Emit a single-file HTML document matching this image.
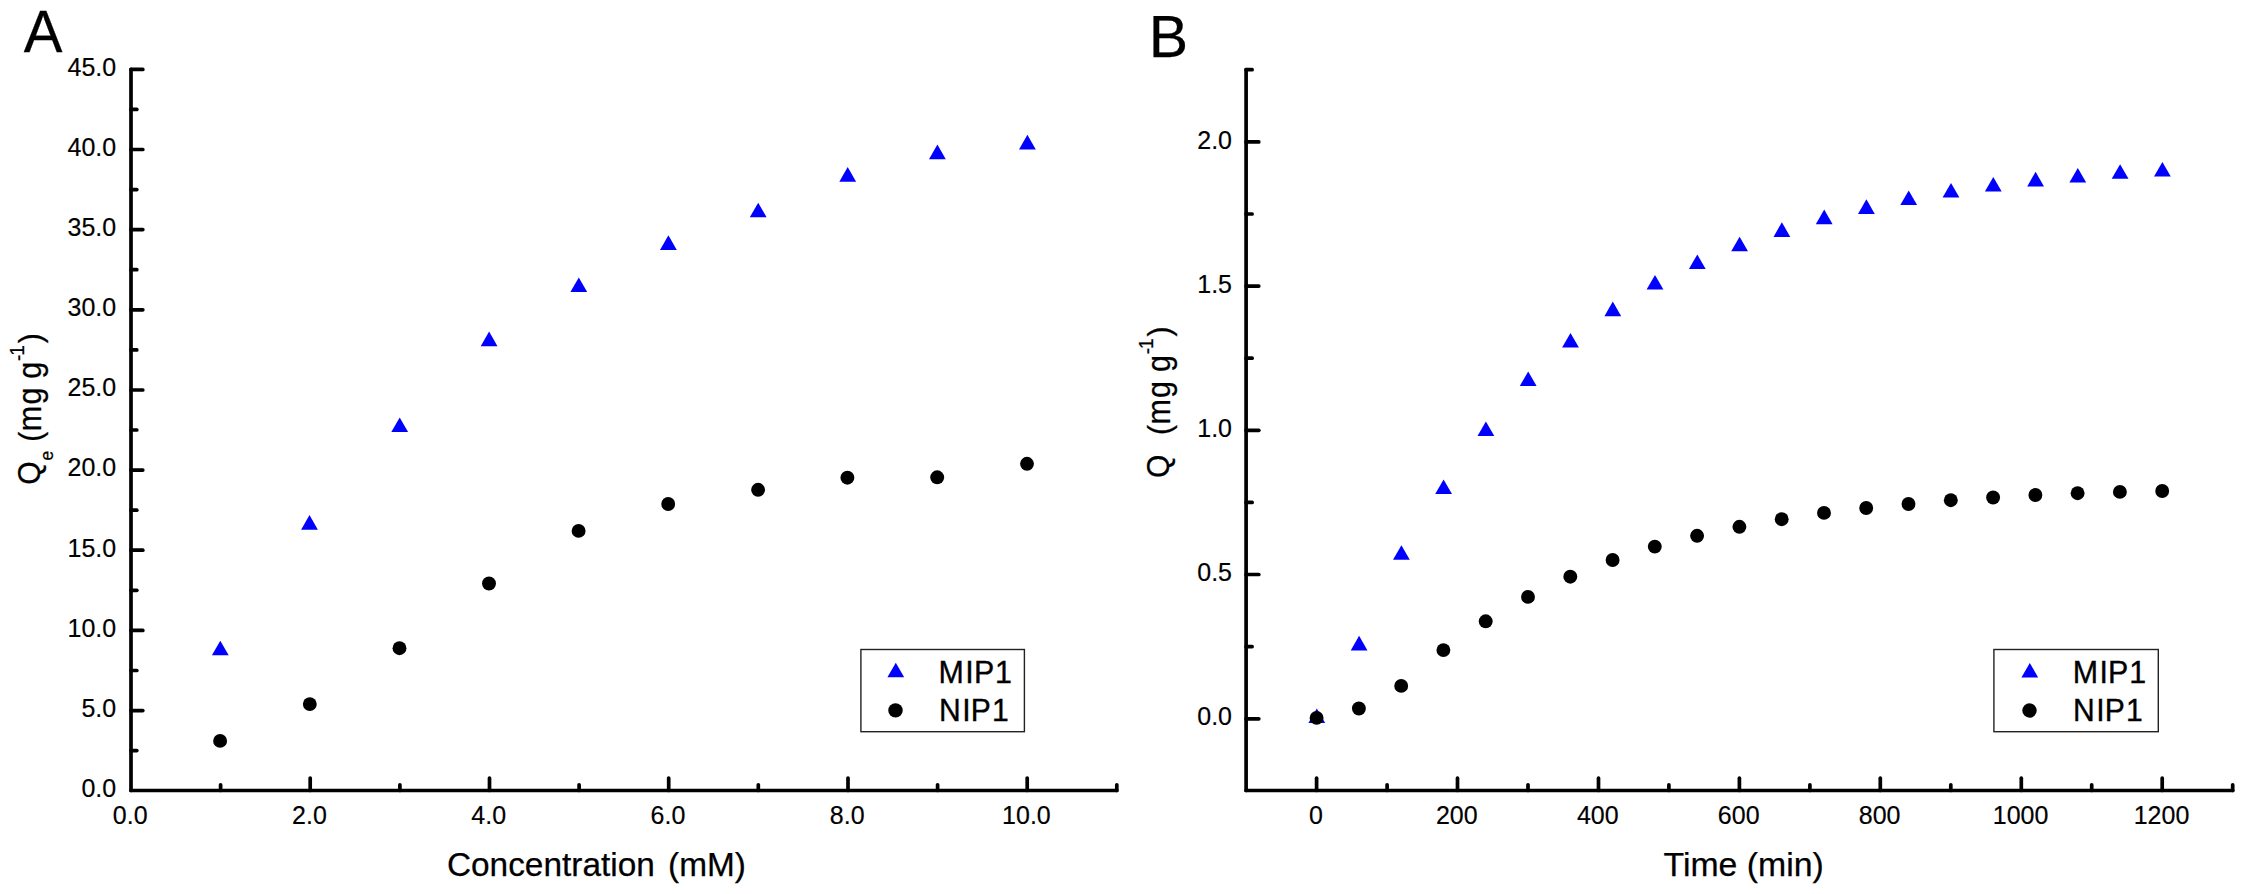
<!DOCTYPE html>
<html lang="en"><head><meta charset="utf-8"><title>Adsorption isotherm and kinetics</title>
<style>
html,body{margin:0;padding:0;background:#fff;}
body{width:2243px;height:894px;overflow:hidden;}
svg{display:block;}
svg text{stroke:#000;stroke-width:0.25px;}
svg text.tk{stroke-width:0.18px;}
svg text.lg{stroke-width:0.35px;}
</style></head><body>
<svg width="2243" height="894" viewBox="0 0 2243 894" font-family='"Liberation Sans", sans-serif' fill="#000">
<rect width="2243" height="894" fill="#fff"/>
<line x1="131.0" y1="69.4" x2="131.0" y2="790.5" stroke="#000" stroke-width="3.7" stroke-linecap="round"/>
<line x1="131.0" y1="790.5" x2="1116.8" y2="790.5" stroke="#000" stroke-width="3.7" stroke-linecap="round"/>
<text class="tk" transform="translate(116.2,797.0) scale(1,1.04)" font-size="25" text-anchor="end" >0.0</text>
<line x1="131.0" y1="750.6" x2="136.8" y2="750.6" stroke="#000" stroke-width="3.7" stroke-linecap="round"/>
<line x1="131.0" y1="710.6" x2="142.8" y2="710.6" stroke="#000" stroke-width="3.7" stroke-linecap="round"/>
<text class="tk" transform="translate(116.2,716.9) scale(1,1.04)" font-size="25" text-anchor="end" >5.0</text>
<line x1="131.0" y1="670.5" x2="136.8" y2="670.5" stroke="#000" stroke-width="3.7" stroke-linecap="round"/>
<line x1="131.0" y1="630.4" x2="142.8" y2="630.4" stroke="#000" stroke-width="3.7" stroke-linecap="round"/>
<text class="tk" transform="translate(116.2,636.7) scale(1,1.04)" font-size="25" text-anchor="end" >10.0</text>
<line x1="131.0" y1="590.3" x2="136.8" y2="590.3" stroke="#000" stroke-width="3.7" stroke-linecap="round"/>
<line x1="131.0" y1="550.2" x2="142.8" y2="550.2" stroke="#000" stroke-width="3.7" stroke-linecap="round"/>
<text class="tk" transform="translate(116.2,556.5) scale(1,1.04)" font-size="25" text-anchor="end" >15.0</text>
<line x1="131.0" y1="510.2" x2="136.8" y2="510.2" stroke="#000" stroke-width="3.7" stroke-linecap="round"/>
<line x1="131.0" y1="470.1" x2="142.8" y2="470.1" stroke="#000" stroke-width="3.7" stroke-linecap="round"/>
<text class="tk" transform="translate(116.2,476.4) scale(1,1.04)" font-size="25" text-anchor="end" >20.0</text>
<line x1="131.0" y1="430.0" x2="136.8" y2="430.0" stroke="#000" stroke-width="3.7" stroke-linecap="round"/>
<line x1="131.0" y1="390.0" x2="142.8" y2="390.0" stroke="#000" stroke-width="3.7" stroke-linecap="round"/>
<text class="tk" transform="translate(116.2,396.3) scale(1,1.04)" font-size="25" text-anchor="end" >25.0</text>
<line x1="131.0" y1="349.9" x2="136.8" y2="349.9" stroke="#000" stroke-width="3.7" stroke-linecap="round"/>
<line x1="131.0" y1="309.8" x2="142.8" y2="309.8" stroke="#000" stroke-width="3.7" stroke-linecap="round"/>
<text class="tk" transform="translate(116.2,316.1) scale(1,1.04)" font-size="25" text-anchor="end" >30.0</text>
<line x1="131.0" y1="269.7" x2="136.8" y2="269.7" stroke="#000" stroke-width="3.7" stroke-linecap="round"/>
<line x1="131.0" y1="229.6" x2="142.8" y2="229.6" stroke="#000" stroke-width="3.7" stroke-linecap="round"/>
<text class="tk" transform="translate(116.2,235.9) scale(1,1.04)" font-size="25" text-anchor="end" >35.0</text>
<line x1="131.0" y1="189.6" x2="136.8" y2="189.6" stroke="#000" stroke-width="3.7" stroke-linecap="round"/>
<line x1="131.0" y1="149.5" x2="142.8" y2="149.5" stroke="#000" stroke-width="3.7" stroke-linecap="round"/>
<text class="tk" transform="translate(116.2,155.8) scale(1,1.04)" font-size="25" text-anchor="end" >40.0</text>
<line x1="131.0" y1="109.4" x2="136.8" y2="109.4" stroke="#000" stroke-width="3.7" stroke-linecap="round"/>
<line x1="131.0" y1="69.4" x2="142.8" y2="69.4" stroke="#000" stroke-width="3.7" stroke-linecap="round"/>
<text class="tk" transform="translate(116.2,75.7) scale(1,1.04)" font-size="25" text-anchor="end" >45.0</text>
<text class="tk" transform="translate(130.2,823.8) scale(1,1.04)" font-size="25" text-anchor="middle" >0.0</text>
<line x1="220.6" y1="790.5" x2="220.6" y2="784.8" stroke="#000" stroke-width="3.7" stroke-linecap="round"/>
<line x1="310.2" y1="790.5" x2="310.2" y2="778.0" stroke="#000" stroke-width="3.7" stroke-linecap="round"/>
<text class="tk" transform="translate(309.4,823.8) scale(1,1.04)" font-size="25" text-anchor="middle" >2.0</text>
<line x1="399.9" y1="790.5" x2="399.9" y2="784.8" stroke="#000" stroke-width="3.7" stroke-linecap="round"/>
<line x1="489.5" y1="790.5" x2="489.5" y2="778.0" stroke="#000" stroke-width="3.7" stroke-linecap="round"/>
<text class="tk" transform="translate(488.7,823.8) scale(1,1.04)" font-size="25" text-anchor="middle" >4.0</text>
<line x1="579.1" y1="790.5" x2="579.1" y2="784.8" stroke="#000" stroke-width="3.7" stroke-linecap="round"/>
<line x1="668.7" y1="790.5" x2="668.7" y2="778.0" stroke="#000" stroke-width="3.7" stroke-linecap="round"/>
<text class="tk" transform="translate(667.9,823.8) scale(1,1.04)" font-size="25" text-anchor="middle" >6.0</text>
<line x1="758.3" y1="790.5" x2="758.3" y2="784.8" stroke="#000" stroke-width="3.7" stroke-linecap="round"/>
<line x1="848.0" y1="790.5" x2="848.0" y2="778.0" stroke="#000" stroke-width="3.7" stroke-linecap="round"/>
<text class="tk" transform="translate(847.2,823.8) scale(1,1.04)" font-size="25" text-anchor="middle" >8.0</text>
<line x1="937.6" y1="790.5" x2="937.6" y2="784.8" stroke="#000" stroke-width="3.7" stroke-linecap="round"/>
<line x1="1027.2" y1="790.5" x2="1027.2" y2="778.0" stroke="#000" stroke-width="3.7" stroke-linecap="round"/>
<text class="tk" transform="translate(1026.4,823.8) scale(1,1.04)" font-size="25" text-anchor="middle" >10.0</text>
<line x1="1116.8" y1="790.5" x2="1116.8" y2="784.8" stroke="#000" stroke-width="3.7" stroke-linecap="round"/>
<polygon points="220.3,640.7 211.9,655.3 228.7,655.3" fill="#0000ff"/>
<polygon points="309.5,515.1 301.1,529.7 317.9,529.7" fill="#0000ff"/>
<polygon points="399.7,417.4 391.3,432.0 408.1,432.0" fill="#0000ff"/>
<polygon points="489.1,331.6 480.7,346.2 497.5,346.2" fill="#0000ff"/>
<polygon points="578.8,277.4 570.4,292.0 587.2,292.0" fill="#0000ff"/>
<polygon points="668.4,235.3 660.0,249.9 676.8,249.9" fill="#0000ff"/>
<polygon points="758.2,202.7 749.8,217.3 766.6,217.3" fill="#0000ff"/>
<polygon points="847.7,167.1 839.3,181.7 856.1,181.7" fill="#0000ff"/>
<polygon points="937.4,144.6 929.0,159.2 945.8,159.2" fill="#0000ff"/>
<polygon points="1027.4,134.8 1019.0,149.4 1035.8,149.4" fill="#0000ff"/>
<circle cx="220.1" cy="740.9" r="6.95" fill="#000"/>
<circle cx="309.8" cy="704.1" r="6.95" fill="#000"/>
<circle cx="399.5" cy="648.2" r="6.95" fill="#000"/>
<circle cx="489.0" cy="583.5" r="6.95" fill="#000"/>
<circle cx="578.6" cy="530.9" r="6.95" fill="#000"/>
<circle cx="668.2" cy="504.0" r="6.95" fill="#000"/>
<circle cx="758.1" cy="489.8" r="6.95" fill="#000"/>
<circle cx="847.4" cy="477.7" r="6.95" fill="#000"/>
<circle cx="937.2" cy="477.3" r="6.95" fill="#000"/>
<circle cx="1027.0" cy="463.8" r="6.95" fill="#000"/>
<rect x="860.9" y="649.5" width="163.5" height="82.2" fill="#fff" stroke="#222" stroke-width="1.4"/>
<polygon points="895.8,662.7 887.4,677.3 904.2,677.3" fill="#0000ff"/>
<circle cx="895.5" cy="710.4" r="7.2" fill="#000"/>
<text class="lg" transform="translate(937.81,682.6) scale(1,1.035)" font-size="30.4" dx="0.8 1.4 0.2 0.8">MIP1</text>
<text class="lg" transform="translate(938.53,721.3) scale(1,1.035)" font-size="30.1" dx="0.4 1.6 0.2 1.0">NIP1</text>
<text transform="translate(23.8,51.7) scale(1,1.03)" font-size="58">A</text>
<text x="446.9" y="876.4" font-size="33.4" text-anchor="start" word-spacing="4">Concentration (mM)</text>
<g transform="translate(41.2,483.4) rotate(-90) scale(1,1.06)">
<text x="-1.42" y="-0.94" font-size="30">Q</text>
<text x="22.86" y="11.13" font-size="17.5">e</text>
<text x="41.74" y="0.00" font-size="30">(</text>
<text x="52.17" y="0.00" font-size="30.5">m</text>
<text x="78.82" y="0.00" font-size="30.5">g</text>
<text x="104.72" y="0.00" font-size="30.5">g</text>
<text x="122.36" y="-15.57" font-size="19">-</text>
<text x="127.75" y="-16.42" font-size="19">1</text>
<text x="140.22" y="0.00" font-size="30">)</text>
</g>
<line x1="1246.1" y1="69.7" x2="1246.1" y2="790.5" stroke="#000" stroke-width="3.7" stroke-linecap="round"/>
<line x1="1246.1" y1="790.5" x2="2232.7" y2="790.5" stroke="#000" stroke-width="3.7" stroke-linecap="round"/>
<line x1="1246.1" y1="718.8" x2="1258.8" y2="718.8" stroke="#000" stroke-width="3.7" stroke-linecap="round"/>
<text class="tk" transform="translate(1232.0,725.4) scale(1,1.04)" font-size="25" text-anchor="end" >0.0</text>
<line x1="1246.1" y1="646.6" x2="1252.1" y2="646.6" stroke="#000" stroke-width="3.7" stroke-linecap="round"/>
<line x1="1246.1" y1="574.5" x2="1258.8" y2="574.5" stroke="#000" stroke-width="3.7" stroke-linecap="round"/>
<text class="tk" transform="translate(1232.0,581.2) scale(1,1.04)" font-size="25" text-anchor="end" >0.5</text>
<line x1="1246.1" y1="502.4" x2="1252.1" y2="502.4" stroke="#000" stroke-width="3.7" stroke-linecap="round"/>
<line x1="1246.1" y1="430.3" x2="1258.8" y2="430.3" stroke="#000" stroke-width="3.7" stroke-linecap="round"/>
<text class="tk" transform="translate(1232.0,436.9) scale(1,1.04)" font-size="25" text-anchor="end" >1.0</text>
<line x1="1246.1" y1="358.2" x2="1252.1" y2="358.2" stroke="#000" stroke-width="3.7" stroke-linecap="round"/>
<line x1="1246.1" y1="286.1" x2="1258.8" y2="286.1" stroke="#000" stroke-width="3.7" stroke-linecap="round"/>
<text class="tk" transform="translate(1232.0,292.7) scale(1,1.04)" font-size="25" text-anchor="end" >1.5</text>
<line x1="1246.1" y1="214.0" x2="1252.1" y2="214.0" stroke="#000" stroke-width="3.7" stroke-linecap="round"/>
<line x1="1246.1" y1="141.9" x2="1258.8" y2="141.9" stroke="#000" stroke-width="3.7" stroke-linecap="round"/>
<text class="tk" transform="translate(1232.0,148.5) scale(1,1.04)" font-size="25" text-anchor="end" >2.0</text>
<line x1="1246.1" y1="69.7" x2="1252.1" y2="69.7" stroke="#000" stroke-width="3.7" stroke-linecap="round"/>
<line x1="1316.6" y1="790.5" x2="1316.6" y2="778.2" stroke="#000" stroke-width="3.7" stroke-linecap="round"/>
<text class="tk" transform="translate(1315.9,823.8) scale(1,1.04)" font-size="25" text-anchor="middle" >0</text>
<line x1="1387.1" y1="790.5" x2="1387.1" y2="784.8" stroke="#000" stroke-width="3.7" stroke-linecap="round"/>
<line x1="1457.5" y1="790.5" x2="1457.5" y2="778.2" stroke="#000" stroke-width="3.7" stroke-linecap="round"/>
<text class="tk" transform="translate(1456.8,823.8) scale(1,1.04)" font-size="25" text-anchor="middle" >200</text>
<line x1="1528.0" y1="790.5" x2="1528.0" y2="784.8" stroke="#000" stroke-width="3.7" stroke-linecap="round"/>
<line x1="1598.5" y1="790.5" x2="1598.5" y2="778.2" stroke="#000" stroke-width="3.7" stroke-linecap="round"/>
<text class="tk" transform="translate(1597.8,823.8) scale(1,1.04)" font-size="25" text-anchor="middle" >400</text>
<line x1="1668.9" y1="790.5" x2="1668.9" y2="784.8" stroke="#000" stroke-width="3.7" stroke-linecap="round"/>
<line x1="1739.4" y1="790.5" x2="1739.4" y2="778.2" stroke="#000" stroke-width="3.7" stroke-linecap="round"/>
<text class="tk" transform="translate(1738.7,823.8) scale(1,1.04)" font-size="25" text-anchor="middle" >600</text>
<line x1="1809.9" y1="790.5" x2="1809.9" y2="784.8" stroke="#000" stroke-width="3.7" stroke-linecap="round"/>
<line x1="1880.3" y1="790.5" x2="1880.3" y2="778.2" stroke="#000" stroke-width="3.7" stroke-linecap="round"/>
<text class="tk" transform="translate(1879.6,823.8) scale(1,1.04)" font-size="25" text-anchor="middle" >800</text>
<line x1="1950.8" y1="790.5" x2="1950.8" y2="784.8" stroke="#000" stroke-width="3.7" stroke-linecap="round"/>
<line x1="2021.3" y1="790.5" x2="2021.3" y2="778.2" stroke="#000" stroke-width="3.7" stroke-linecap="round"/>
<text class="tk" transform="translate(2020.6,823.8) scale(1,1.04)" font-size="25" text-anchor="middle" >1000</text>
<line x1="2091.7" y1="790.5" x2="2091.7" y2="784.8" stroke="#000" stroke-width="3.7" stroke-linecap="round"/>
<line x1="2162.2" y1="790.5" x2="2162.2" y2="778.2" stroke="#000" stroke-width="3.7" stroke-linecap="round"/>
<text class="tk" transform="translate(2161.5,823.8) scale(1,1.04)" font-size="25" text-anchor="middle" >1200</text>
<line x1="2232.7" y1="790.5" x2="2232.7" y2="784.8" stroke="#000" stroke-width="3.7" stroke-linecap="round"/>
<polygon points="1316.8,708.5 1308.4,723.1 1325.2,723.1" fill="#0000ff"/>
<polygon points="1359.1,635.8 1350.7,650.4 1367.5,650.4" fill="#0000ff"/>
<polygon points="1401.4,545.2 1393.0,559.8 1409.8,559.8" fill="#0000ff"/>
<polygon points="1443.6,479.4 1435.2,494.0 1452.0,494.0" fill="#0000ff"/>
<polygon points="1485.9,421.4 1477.5,436.0 1494.3,436.0" fill="#0000ff"/>
<polygon points="1528.2,371.4 1519.8,386.0 1536.6,386.0" fill="#0000ff"/>
<polygon points="1570.5,332.9 1562.1,347.5 1578.9,347.5" fill="#0000ff"/>
<polygon points="1612.8,301.6 1604.4,316.2 1621.2,316.2" fill="#0000ff"/>
<polygon points="1655.0,275.0 1646.6,289.6 1663.4,289.6" fill="#0000ff"/>
<polygon points="1697.3,254.4 1688.9,269.0 1705.7,269.0" fill="#0000ff"/>
<polygon points="1739.6,236.7 1731.2,251.3 1748.0,251.3" fill="#0000ff"/>
<polygon points="1781.9,222.3 1773.5,236.9 1790.3,236.9" fill="#0000ff"/>
<polygon points="1824.2,209.6 1815.8,224.2 1832.6,224.2" fill="#0000ff"/>
<polygon points="1866.4,199.3 1858.0,213.9 1874.8,213.9" fill="#0000ff"/>
<polygon points="1908.7,190.4 1900.3,205.0 1917.1,205.0" fill="#0000ff"/>
<polygon points="1951.0,183.0 1942.6,197.6 1959.4,197.6" fill="#0000ff"/>
<polygon points="1993.3,177.0 1984.9,191.6 2001.7,191.6" fill="#0000ff"/>
<polygon points="2035.6,171.8 2027.2,186.4 2044.0,186.4" fill="#0000ff"/>
<polygon points="2077.8,168.0 2069.4,182.6 2086.2,182.6" fill="#0000ff"/>
<polygon points="2120.1,164.2 2111.7,178.8 2128.5,178.8" fill="#0000ff"/>
<polygon points="2162.4,162.0 2154.0,176.6 2170.8,176.6" fill="#0000ff"/>
<circle cx="1316.6" cy="717.9" r="6.95" fill="#000"/>
<circle cx="1358.9" cy="708.5" r="6.95" fill="#000"/>
<circle cx="1401.2" cy="685.9" r="6.95" fill="#000"/>
<circle cx="1443.4" cy="650.1" r="6.95" fill="#000"/>
<circle cx="1485.7" cy="621.3" r="6.95" fill="#000"/>
<circle cx="1528.0" cy="596.9" r="6.95" fill="#000"/>
<circle cx="1570.3" cy="576.7" r="6.95" fill="#000"/>
<circle cx="1612.6" cy="560.0" r="6.95" fill="#000"/>
<circle cx="1654.8" cy="546.6" r="6.95" fill="#000"/>
<circle cx="1697.1" cy="535.8" r="6.95" fill="#000"/>
<circle cx="1739.4" cy="526.8" r="6.95" fill="#000"/>
<circle cx="1781.7" cy="519.2" r="6.95" fill="#000"/>
<circle cx="1824.0" cy="512.9" r="6.95" fill="#000"/>
<circle cx="1866.2" cy="508.0" r="6.95" fill="#000"/>
<circle cx="1908.5" cy="504.0" r="6.95" fill="#000"/>
<circle cx="1950.8" cy="500.2" r="6.95" fill="#000"/>
<circle cx="1993.1" cy="497.5" r="6.95" fill="#000"/>
<circle cx="2035.4" cy="495.0" r="6.95" fill="#000"/>
<circle cx="2077.6" cy="493.2" r="6.95" fill="#000"/>
<circle cx="2119.9" cy="491.9" r="6.95" fill="#000"/>
<circle cx="2162.2" cy="491.0" r="6.95" fill="#000"/>
<rect x="1993.9" y="649.5" width="164.4" height="82.2" fill="#fff" stroke="#222" stroke-width="1.4"/>
<polygon points="2029.8,662.9 2021.4,677.5 2038.2,677.5" fill="#0000ff"/>
<circle cx="2029.5" cy="710.5" r="7.2" fill="#000"/>
<text class="lg" transform="translate(2071.91,682.6) scale(1,1.035)" font-size="30.4" dx="0.8 1.4 0.2 0.8">MIP1</text>
<text class="lg" transform="translate(2072.53,721.3) scale(1,1.035)" font-size="30.1" dx="0.4 1.6 0.2 1.0">NIP1</text>
<text transform="translate(1148.7,57.4) scale(1,1.0)" font-size="59">B</text>
<text x="1663.5" y="876.4" font-size="33.8" text-anchor="start" >Time (min)</text>
<g transform="translate(1170.2,476.7) rotate(-90) scale(1,1.06)">
<text x="-1.42" y="-0.94" font-size="30">Q</text>
<text x="41.74" y="0.00" font-size="30">(</text>
<text x="52.17" y="0.00" font-size="30.5">m</text>
<text x="78.82" y="0.00" font-size="30.5">g</text>
<text x="104.72" y="0.00" font-size="30.5">g</text>
<text x="122.36" y="-15.57" font-size="19">-</text>
<text x="127.75" y="-16.42" font-size="19">1</text>
<text x="140.22" y="0.00" font-size="30">)</text>
</g>
</svg>
</body></html>
